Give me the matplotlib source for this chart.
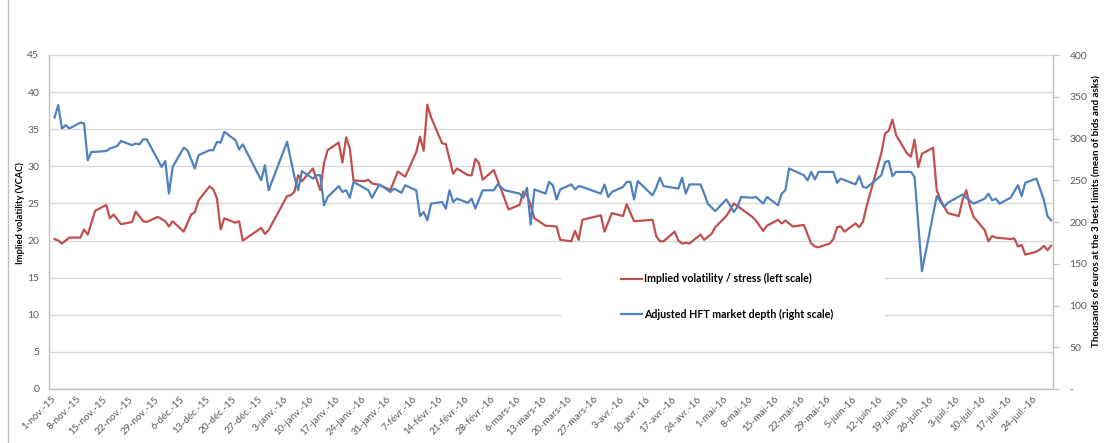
import matplotlib
matplotlib.use("Agg")
import matplotlib.pyplot as plt
from matplotlib.lines import Line2D
from matplotlib.patches import Rectangle
import pandas as pd

plt.rcParams['font.family'] = ['Lato', 'DejaVu Sans']

# ---------------- data ----------------
red_dates = [
    "2015-11-02", "2015-11-03", "2015-11-04", "2015-11-06", "2015-11-09", "2015-11-10", "2015-11-11",
    "2015-11-13", "2015-11-16", "2015-11-17", "2015-11-18", "2015-11-20", "2015-11-23", "2015-11-24",
    "2015-11-26", "2015-11-27", "2015-11-30", "2015-12-02", "2015-12-03", "2015-12-04", "2015-12-07",
    "2015-12-09", "2015-12-10", "2015-12-11", "2015-12-14", "2015-12-15", "2015-12-16", "2015-12-17",
    "2015-12-18", "2015-12-21", "2015-12-22", "2015-12-23", "2015-12-28", "2015-12-29", "2015-12-30",
    "2016-01-04", "2016-01-05", "2016-01-06", "2016-01-07", "2016-01-08", "2016-01-11", "2016-01-13",
    "2016-01-14", "2016-01-15", "2016-01-18", "2016-01-19", "2016-01-20", "2016-01-21", "2016-01-22",
    "2016-01-25", "2016-01-26", "2016-01-27", "2016-01-29", "2016-02-01", "2016-02-03", "2016-02-05",
    "2016-02-08", "2016-02-09", "2016-02-10", "2016-02-11", "2016-02-12", "2016-02-15", "2016-02-16",
    "2016-02-18", "2016-02-19", "2016-02-22", "2016-02-23", "2016-02-24", "2016-02-25", "2016-02-26",
    "2016-02-29", "2016-03-04", "2016-03-07", "2016-03-08", "2016-03-09", "2016-03-10", "2016-03-11",
    "2016-03-14", "2016-03-17", "2016-03-18", "2016-03-21", "2016-03-22", "2016-03-23", "2016-03-24",
    "2016-03-29", "2016-03-30", "2016-04-01", "2016-04-04", "2016-04-05", "2016-04-07", "2016-04-12",
    "2016-04-13", "2016-04-14", "2016-04-15", "2016-04-18", "2016-04-19", "2016-04-20", "2016-04-21",
    "2016-04-22", "2016-04-25", "2016-04-26", "2016-04-28", "2016-04-29", "2016-05-02", "2016-05-03",
    "2016-05-04", "2016-05-06", "2016-05-09", "2016-05-10", "2016-05-12", "2016-05-13", "2016-05-16",
    "2016-05-17", "2016-05-18", "2016-05-20", "2016-05-23", "2016-05-25", "2016-05-26", "2016-05-27",
    "2016-05-30", "2016-05-31", "2016-06-01", "2016-06-02", "2016-06-03", "2016-06-06", "2016-06-07",
    "2016-06-08", "2016-06-09", "2016-06-13", "2016-06-14", "2016-06-15", "2016-06-16", "2016-06-17",
    "2016-06-20", "2016-06-21", "2016-06-22", "2016-06-23", "2016-06-24", "2016-06-27", "2016-06-28",
    "2016-06-29", "2016-07-01", "2016-07-04", "2016-07-05", "2016-07-06", "2016-07-07", "2016-07-08",
    "2016-07-11", "2016-07-12", "2016-07-13", "2016-07-14", "2016-07-18", "2016-07-19", "2016-07-20",
    "2016-07-21", "2016-07-22", "2016-07-25", "2016-07-26", "2016-07-27", "2016-07-28", "2016-07-29",
]
red_values = [
    20.2, 20.0, 19.6, 20.4, 20.4, 21.5, 20.8,
    24.0, 24.8, 23.0, 23.5, 22.2, 22.5, 23.9,
    22.6, 22.5, 23.2, 22.6, 21.9, 22.6, 21.2,
    23.5, 23.8, 25.4, 27.3, 26.9, 25.7, 21.5,
    23.0, 22.4, 22.6, 20.0, 21.7, 20.9, 21.4,
    26.0, 26.1, 26.6, 28.8, 28.0, 29.7, 26.8,
    30.4, 32.2, 33.2, 30.5, 33.9, 32.4, 28.1,
    28.0, 28.2, 27.7, 27.5, 26.8, 29.3, 28.6,
    31.9, 34.0, 32.1, 38.3, 36.6, 33.1, 33.0,
    29.0, 29.7, 28.8, 28.8, 31.0, 30.4, 28.2,
    29.5, 24.2, 24.8, 26.6, 26.1, 24.8, 23.0,
    22.0, 21.9, 20.1, 19.9, 21.3, 20.1, 22.8,
    23.4, 21.2, 23.7, 23.3, 24.9, 22.6, 22.8,
    20.6, 19.9, 19.9, 21.2, 20.0, 19.6, 19.7,
    19.6, 20.8, 20.1, 20.9, 21.8, 23.3, 24.1,
    25.0, 24.3, 23.2, 22.7, 21.3, 22.0, 22.8,
    22.3, 22.7, 21.9, 22.1, 19.6, 19.2, 19.1,
    19.6, 20.2, 21.8, 21.9, 21.2, 22.3, 21.8,
    22.5, 24.6, 31.8, 34.4, 34.8, 36.3, 34.2,
    31.7, 31.3, 33.6, 29.9, 31.7, 32.5, 26.8,
    25.5, 23.7, 23.3, 25.5, 26.8, 24.6, 23.2,
    21.4, 19.9, 20.6, 20.4, 20.2, 20.3, 19.2,
    19.4, 18.1, 18.5, 18.8, 19.3, 18.7, 19.3,
]

blue_dates = [
    "2015-11-02", "2015-11-03", "2015-11-04", "2015-11-05", "2015-11-06", "2015-11-09", "2015-11-10",
    "2015-11-11", "2015-11-12", "2015-11-13", "2015-11-16", "2015-11-17", "2015-11-19", "2015-11-20",
    "2015-11-23", "2015-11-24", "2015-11-25", "2015-11-26", "2015-11-27", "2015-12-01", "2015-12-02",
    "2015-12-03", "2015-12-04", "2015-12-07", "2015-12-08", "2015-12-10", "2015-12-11", "2015-12-14",
    "2015-12-15", "2015-12-16", "2015-12-17", "2015-12-18", "2015-12-21", "2015-12-22", "2015-12-23",
    "2015-12-28", "2015-12-29", "2015-12-30", "2016-01-04", "2016-01-06", "2016-01-07", "2016-01-08",
    "2016-01-11", "2016-01-12", "2016-01-13", "2016-01-14", "2016-01-15", "2016-01-18", "2016-01-19",
    "2016-01-20", "2016-01-21", "2016-01-22", "2016-01-26", "2016-01-27", "2016-01-29", "2016-02-01",
    "2016-02-02", "2016-02-04", "2016-02-05", "2016-02-08", "2016-02-09", "2016-02-10", "2016-02-11",
    "2016-02-12", "2016-02-15", "2016-02-16", "2016-02-17", "2016-02-18", "2016-02-19", "2016-02-22",
    "2016-02-23", "2016-02-24", "2016-02-26", "2016-02-29", "2016-03-01", "2016-03-03", "2016-03-07",
    "2016-03-08", "2016-03-09", "2016-03-10", "2016-03-11", "2016-03-14", "2016-03-15", "2016-03-16",
    "2016-03-17", "2016-03-18", "2016-03-21", "2016-03-22", "2016-03-23", "2016-03-24", "2016-03-29",
    "2016-03-30", "2016-03-31", "2016-04-01", "2016-04-04", "2016-04-05", "2016-04-06", "2016-04-07",
    "2016-04-08", "2016-04-12", "2016-04-13", "2016-04-14", "2016-04-15", "2016-04-19", "2016-04-20",
    "2016-04-21", "2016-04-22", "2016-04-25", "2016-04-26", "2016-04-27", "2016-04-29", "2016-05-02",
    "2016-05-03", "2016-05-04", "2016-05-05", "2016-05-06", "2016-05-09", "2016-05-10", "2016-05-12",
    "2016-05-13", "2016-05-16", "2016-05-17", "2016-05-18", "2016-05-19", "2016-05-23", "2016-05-24",
    "2016-05-25", "2016-05-26", "2016-05-27", "2016-05-31", "2016-06-01", "2016-06-02", "2016-06-06",
    "2016-06-07", "2016-06-08", "2016-06-09", "2016-06-13", "2016-06-14", "2016-06-15", "2016-06-16",
    "2016-06-17", "2016-06-21", "2016-06-22", "2016-06-24", "2016-06-28", "2016-06-30", "2016-07-01",
    "2016-07-05", "2016-07-06", "2016-07-08", "2016-07-11", "2016-07-12", "2016-07-13", "2016-07-14",
    "2016-07-15", "2016-07-18", "2016-07-20", "2016-07-21", "2016-07-22", "2016-07-25", "2016-07-27",
    "2016-07-28", "2016-07-29",
]
blue_values = [
    325, 340, 312, 316, 312, 319, 318,
    274, 284, 284, 285, 288, 291, 297,
    292, 294, 293, 299, 299, 266, 273,
    234, 266, 289, 286, 264, 280, 286,
    286, 296, 295, 308, 298, 287, 293,
    250, 268, 238, 296, 254, 238, 261,
    252, 256, 256, 220, 230, 243, 236,
    238, 229, 248, 238, 229, 245, 236,
    240, 235, 244, 238, 207, 212, 202,
    222, 224, 216, 238, 224, 228, 223,
    228, 216, 238, 238, 245, 238, 234,
    229, 241, 197, 239, 234, 248, 244,
    227, 239, 245, 239, 243, 242, 234,
    245, 230, 236, 242, 248, 248, 227,
    249, 232, 241, 253, 243, 240, 253,
    234, 245, 245, 234, 222, 213, 227,
    220, 212, 218, 230, 229, 230, 222,
    230, 220, 234, 238, 264, 256, 250,
    260, 251, 260, 260, 247, 252, 245,
    255, 242, 241, 256, 272, 273, 255,
    260, 260, 254, 141, 231, 218, 223,
    233, 229, 222, 228, 234, 226, 228,
    222, 229, 244, 231, 247, 252, 227,
    207, 202,
]

tick_labels = [
    "1-nov.-15", "8-nov.-15", "15-nov.-15", "22-nov.-15", "29-nov.-15", "6-déc.-15",
    "13-déc.-15", "20-déc.-15", "27-déc.-15", "3-janv.-16", "10-janv.-16", "17-janv.-16",
    "24-janv.-16", "31-janv.-16", "7-févr.-16", "14-févr.-16", "21-févr.-16", "28-févr.-16",
    "6-mars-16", "13-mars-16", "20-mars-16", "27-mars-16", "3-avr.-16", "10-avr.-16",
    "17-avr.-16", "24-avr.-16", "1-mai-16", "8-mai-16", "15-mai-16", "22-mai-16",
    "29-mai-16", "5-juin-16", "12-juin-16", "19-juin-16", "26-juin-16", "3-juil.-16",
    "10-juil.-16", "17-juil.-16", "24-juil.-16",
]

red_label = "Implied volatility / stress (left scale)"
blue_label = "Adjusted HFT market depth (right scale)"
left_title = "Implied volatility (VCAC)"
right_title = "Thousands of euros at the 3 best limits (mean of bids and asks)"

# ---------------- figure ----------------
W, H = 1109, 443
fig = plt.figure(figsize=(W / 100, H / 100), dpi=100)
fig.patch.set_facecolor("white")

def fx(px):
    return px / W

def fy(py):
    return 1 - py / H

ax_l, ax_r, ax_t, ax_b = 49, 1053, 55, 389
ax = fig.add_axes([fx(ax_l), fy(ax_b), fx(ax_r) - fx(ax_l), fy(ax_t) - fy(ax_b)])
ax2 = ax.twinx()

RED = "#C0504D"
BLUE = "#4F81BD"
GRID = "#D9D9D9"
AXC = "#BFBFBF"
TXT = "#595959"

rd = pd.to_datetime(red_dates)
bd = pd.to_datetime(blue_dates)
l1, = ax.plot(rd, red_values, color=RED, lw=1.6, solid_joinstyle="round", zorder=3)
l2, = ax2.plot(bd, blue_values, color=BLUE, lw=1.6, solid_joinstyle="round", zorder=3)

ax.set_ylim(0, 45)
ax.set_yticks(range(0, 46, 5))
ax2.set_ylim(0, 400)
ax2.set_yticks(range(0, 401, 50))
ax2.set_yticklabels(["-" if v == 0 else str(v) for v in range(0, 401, 50)])

x0 = pd.Timestamp("2015-11-01") - pd.Timedelta(hours=12)
x1 = pd.Timestamp("2016-07-29") + pd.Timedelta(hours=12)
ax.set_xlim(x0, x1)
ticks = pd.date_range("2015-11-01", periods=len(tick_labels), freq="7D")
ax.set_xticks(ticks)
ax.set_xticklabels(tick_labels, rotation=45, ha="right", rotation_mode="anchor",
                   fontsize=7.2, color=TXT)
ax.tick_params(axis="x", length=0, pad=4)
ax.tick_params(axis="y", length=0, pad=7, labelsize=7.5, labelcolor=TXT)
ax2.tick_params(axis="y", length=4, width=0.8, color=AXC, pad=8, labelsize=7.5, labelcolor=TXT)

ax.yaxis.grid(True, color=GRID, lw=1.0)
ax.set_axisbelow(True)
for s in ["top", "right"]:
    ax.spines[s].set_visible(False)
for s in ["left", "bottom"]:
    ax.spines[s].set_color(AXC)
    ax.spines[s].set_linewidth(1.0)
for s in ["top", "left", "bottom"]:
    ax2.spines[s].set_visible(False)
ax2.spines["right"].set_color(AXC)
ax2.spines["right"].set_linewidth(1.0)

# axis titles
fig.text(fx(20), fy(213), left_title, rotation=90, ha="center", va="center",
         fontsize=6.7, fontweight="bold", color="black")
fig.text(fx(1097), fy(211), right_title, rotation=90, ha="center", va="center",
         fontsize=7.0, fontweight="bold", color="black")

# legend: white box hiding the gridlines, entries inside
ax2.add_patch(Rectangle((fx(562), fy(333)), fx(885) - fx(562), fy(262) - fy(333),
                        transform=fig.transFigure, facecolor="white", edgecolor="none",
                        zorder=1))
leg = ax2.legend([l1, l2], [red_label, blue_label], loc="center left",
                 bbox_to_anchor=(fx(621), fy(296.5)), bbox_transform=fig.transFigure,
                 frameon=False, labelspacing=2.25, handlelength=1.96, handletextpad=0.15,
                 borderpad=0, borderaxespad=0,
                 prop={"size": 7.7, "weight": "bold"})

# chart border line at left
fig.add_artist(Line2D([fx(8), fx(8)], [0, 1], transform=fig.transFigure,
                      color=AXC, lw=1.0))

fig.savefig("out.png", dpi=100)
